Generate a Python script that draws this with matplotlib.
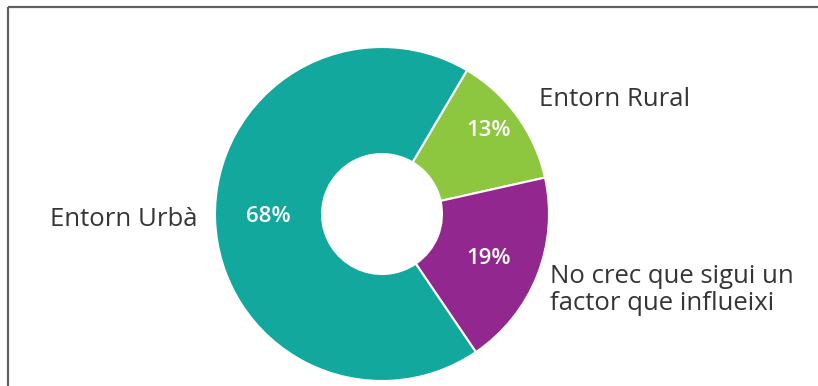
import matplotlib
matplotlib.use("Agg")
import matplotlib.pyplot as plt

# share of answers per environment
categories = ["Entorn Rural", "No crec que sigui un\nfactor que influeixi", "Entorn Urbà"]
values = [13, 19, 68]
colors = ["#8DC63F", "#92278F", "#13A89E"]

plt.rcParams["font.family"] = ["Open Sans", "DejaVu Sans"]

W, H = 818, 386
fig = plt.figure(figsize=(W / 100, H / 100), dpi=100)
ax = fig.add_axes([0, 0, 1, 1])

cx, cy, r = 382, 172, 167
wedges, _, pct_texts = ax.pie(
    values, colors=colors, center=(cx, cy), radius=r,
    startangle=59.4, counterclock=False,
    autopct=lambda p: f"{p:.0f}%",
    wedgeprops=dict(width=107, edgecolor="white", linewidth=1.5),
    textprops=dict(color="white", fontsize=16, fontweight="semibold"),
    frame=True,
)
ax.set_xlim(0, W)
ax.set_ylim(0, H)
ax.set_aspect("equal")
ax.axis("off")

# percentage label placement inside the ring
pct_pos = [(489, 256), (489, 128), (268, 169)]
for t, (x, y) in zip(pct_texts, pct_pos):
    t.set_position((x, y))
    t.set_ha("center")
    t.set_va("center")

# category labels outside the ring
cat_pos = [(539, 287, "left"), (550, 96, "left"), (198, 167, "right")]
for name, (x, y, ha) in zip(categories, cat_pos):
    ax.text(x, y, name, ha=ha, va="center", fontsize=18.5, color="#353535",
            linespacing=1.1)

# frame around the chart
ax.plot([7.5, W + 5], [379, 379], color="#606060", lw=1.6, solid_capstyle="butt")
ax.plot([7.5, 7.5], [-5, 379], color="#606060", lw=1.6, solid_capstyle="butt")

fig.savefig("out.png", dpi=100)
